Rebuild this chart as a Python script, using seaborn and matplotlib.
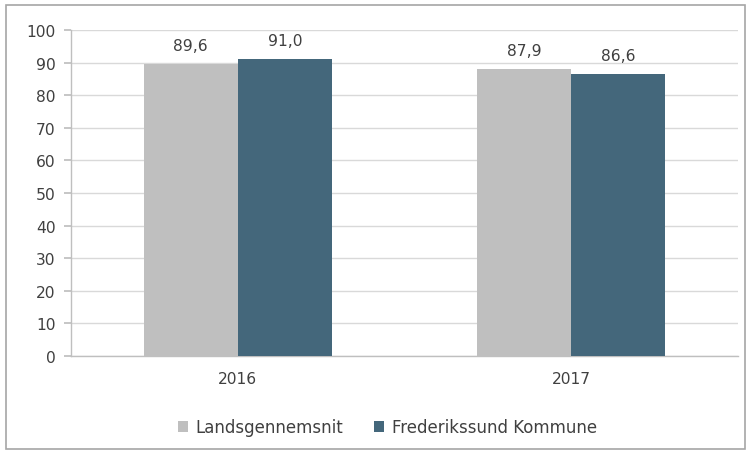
import matplotlib.pyplot as plt
import matplotlib.patches as mpatches
import pandas as pd
import seaborn as sns

years = ["2016", "2017"]
series = ["Landsgennemsnit", "Frederikssund Kommune"]
landsgennemsnit = [89.6, 87.9]
frederikssund = [91.0, 86.6]
colors = ["#BFBFBF", "#44677B"]

df = pd.DataFrame(
    {
        "year": years * 2,
        "series": [series[0]] * 2 + [series[1]] * 2,
        "value": landsgennemsnit + frederikssund,
    }
)

sns.set_theme(style="white")
plt.rcParams["font.family"] = ["DejaVu Sans"]
FS = 11.2
TEXT = "#404040"

fig = plt.figure(figsize=(7.52, 4.56), dpi=100)
ax = fig.add_axes([0.0944, 0.217, 0.887, 0.715])

sns.barplot(
    data=df, x="year", y="value", hue="series", palette=colors,
    width=0.565, saturation=1, linewidth=0, ax=ax, zorder=3,
)

for container in ax.containers:
    ax.bar_label(
        container,
        labels=[f"{v:.1f}".replace(".", ",") for v in container.datavalues],
        padding=8, fontsize=FS, color=TEXT,
    )

ax.set_ylim(0, 100)
ax.set_yticks(range(0, 101, 10))
ax.set_xlim(-0.5, 1.5)
ax.set_xticks([-0.5, 0.5, 1.5], minor=True)
ax.tick_params(axis="x", which="major", length=0, labelsize=FS, labelcolor=TEXT, pad=11)
ax.tick_params(axis="x", which="minor", length=5, color="#BFBFBF", direction="out")
ax.tick_params(axis="y", length=5, color="#BFBFBF", labelsize=FS, labelcolor=TEXT, left=True, pad=6)
ax.grid(axis="y", color="#D9D9D9", linewidth=1, zorder=0)
ax.set_axisbelow(True)
ax.set_xlabel("")
ax.set_ylabel("")
for side in ["top", "right"]:
    ax.spines[side].set_visible(False)
for side in ["left", "bottom"]:
    ax.spines[side].set_color("#BFBFBF")
    ax.spines[side].set_linewidth(1)

ax.legend(
    loc="center", ncol=2, frameon=False, fontsize=12,
    handlelength=0.6, handleheight=0.6, handletextpad=0.45,
    columnspacing=1.9, labelcolor=TEXT,
)
ax.get_legend().set_bbox_to_anchor((0.515, 0.061), transform=fig.transFigure)

fig.patches.append(
    mpatches.Rectangle(
        (6 / 752, 6 / 456), 739 / 752, 444 / 456, transform=fig.transFigure,
        fill=False, edgecolor="#A6A6A6", linewidth=1.2,
    )
)

fig.savefig("out.png", dpi=100)
